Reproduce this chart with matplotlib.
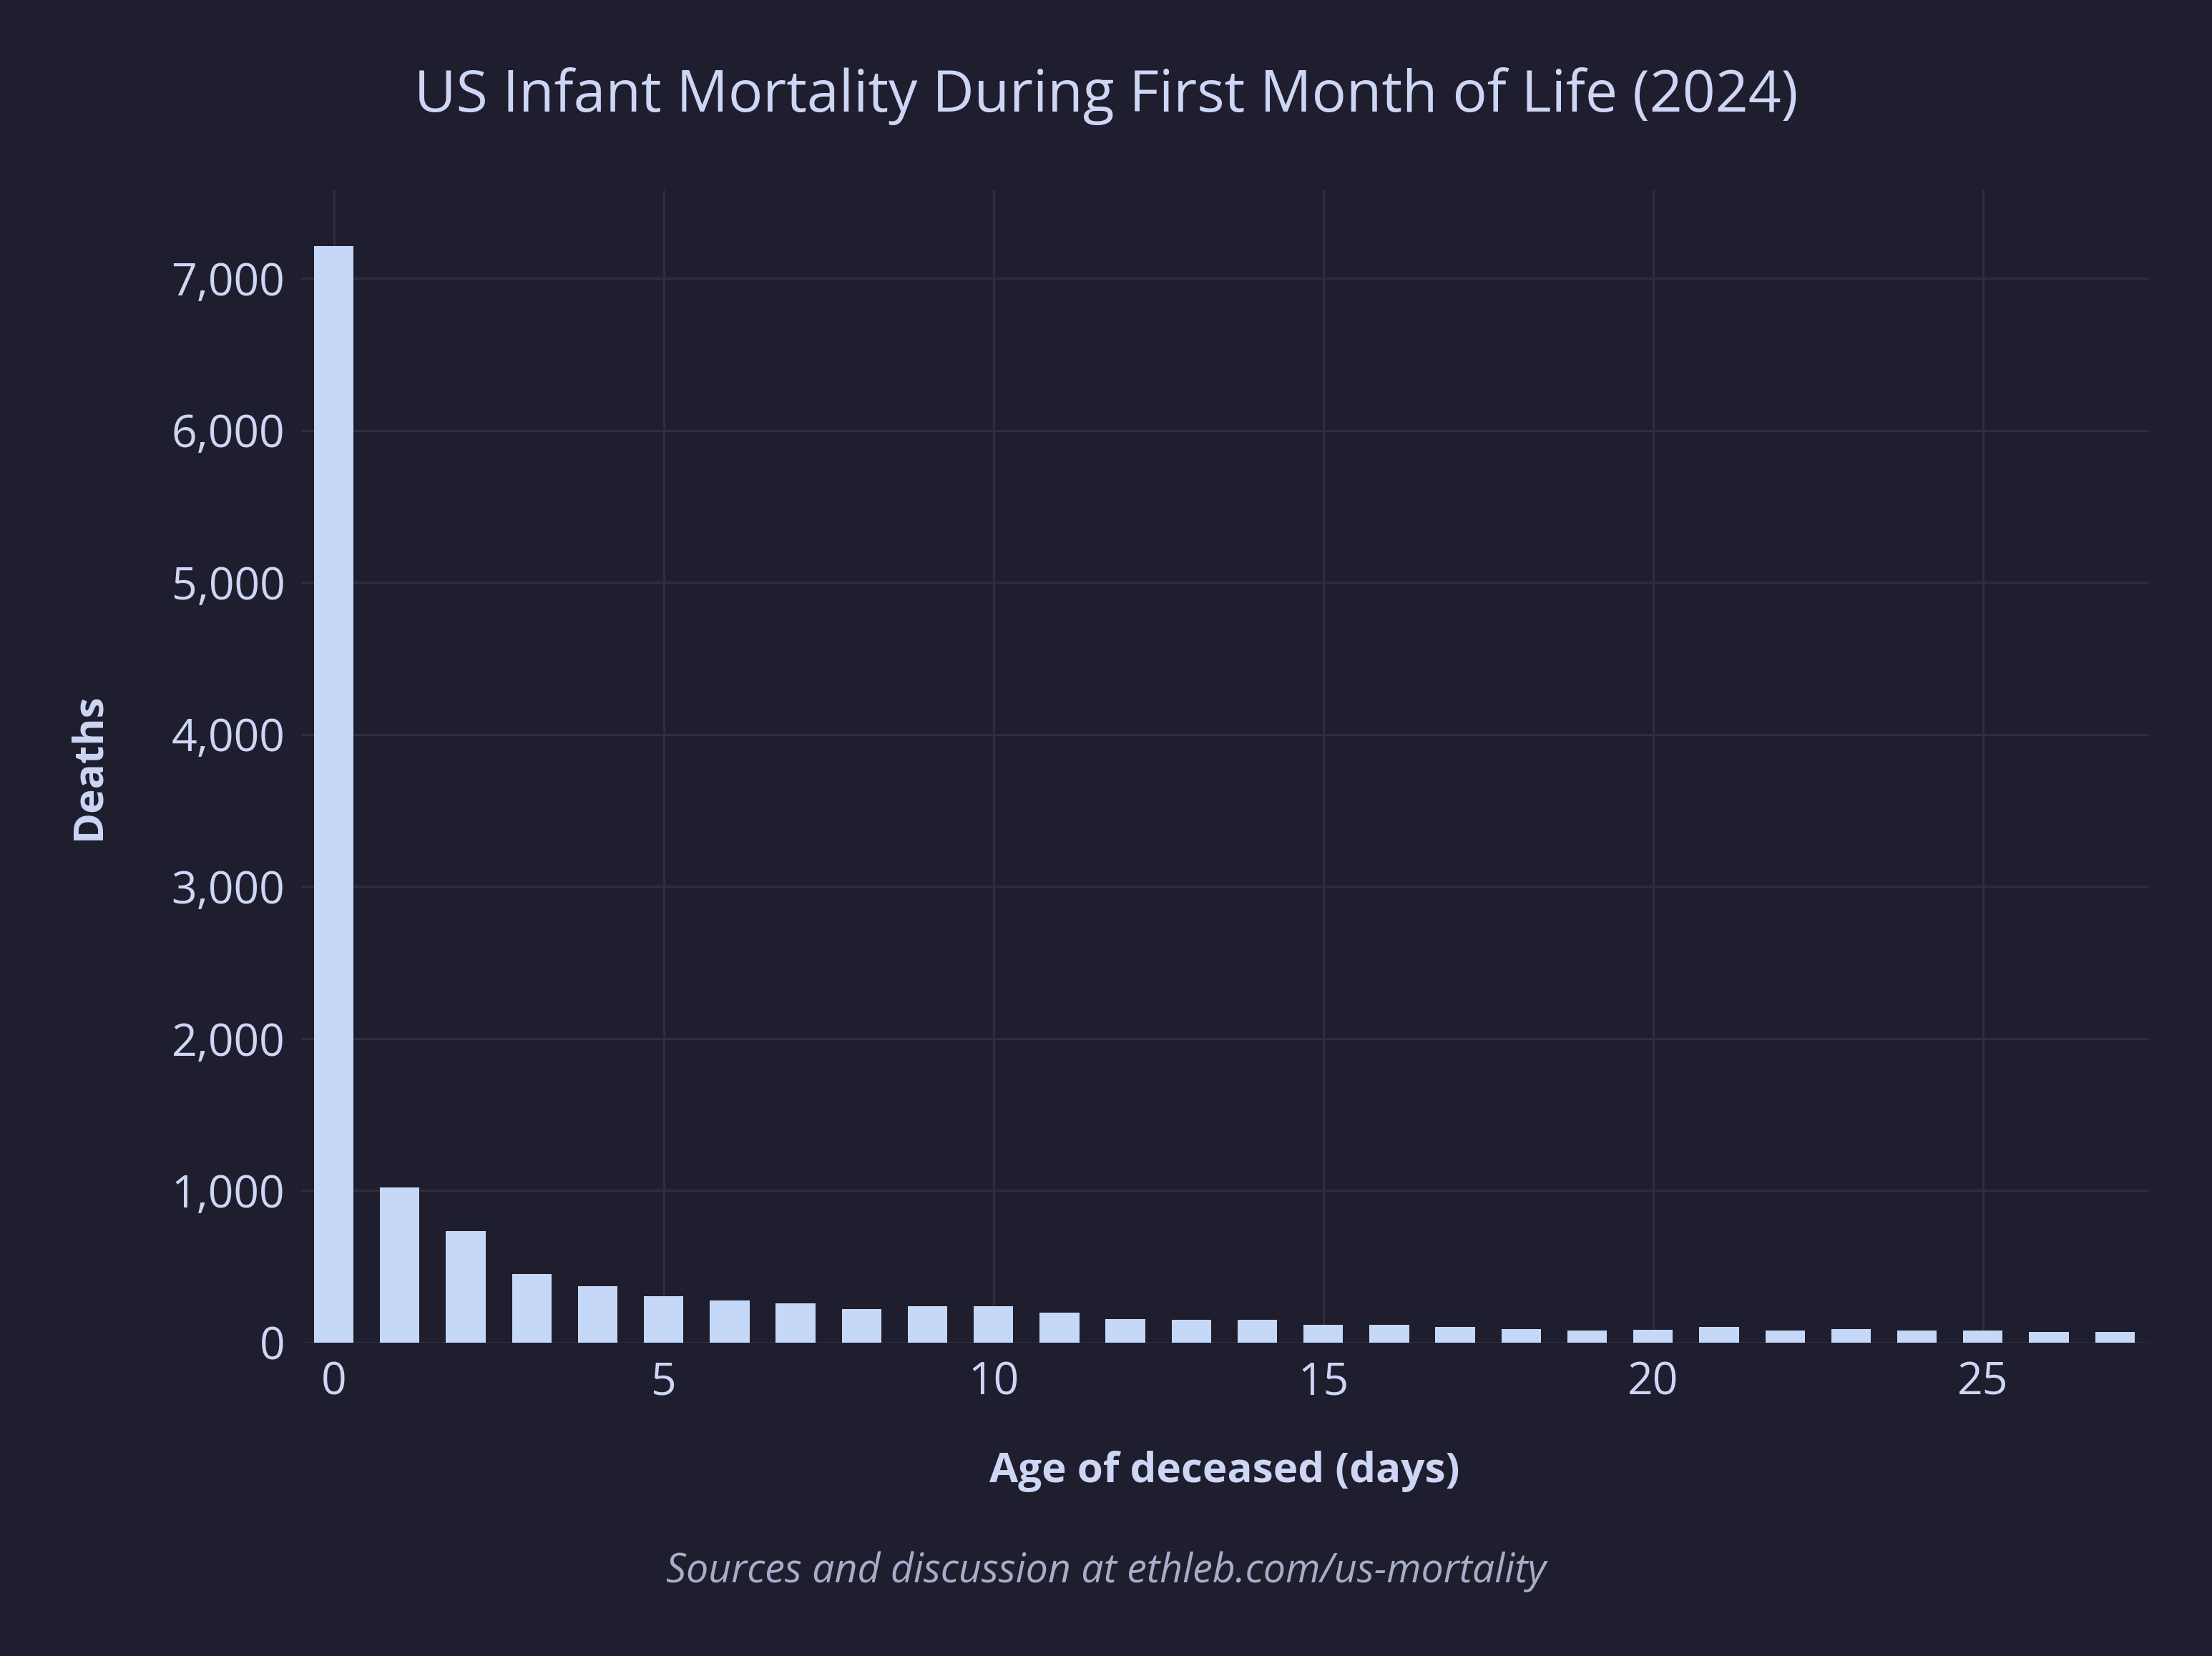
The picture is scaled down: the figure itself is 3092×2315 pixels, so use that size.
import matplotlib
matplotlib.use("Agg")
import matplotlib.pyplot as plt
from matplotlib.ticker import FuncFormatter

# Catppuccin-ish dark palette
bg = "#1e1e2e"
text_col = "#cdd6f4"
sub_col = "#a6adc8"
grid_col = "#2e2e40"
bar_col = "#c6d8f7"

# Data: deaths by age in days
days = list(range(28))
deaths = [7210, 1021, 734, 452, 372, 306, 278, 259, 221, 240,
          240, 198, 155, 151, 151, 118, 118, 102, 88, 78,
          83, 102, 78, 88, 78, 78, 70, 70]
xticks = [0, 5, 10, 15, 20, 25]
yticks = [0, 1000, 2000, 3000, 4000, 5000, 6000, 7000]

plt.rcParams['font.family'] = ['Open Sans', 'DejaVu Sans']

fig = plt.figure(figsize=(15.46, 11.575), dpi=200, facecolor=bg)
ax = fig.add_axes([0.136, 0.1892, 0.835, 0.696])
ax.set_facecolor(bg)

ax.bar(days, deaths, width=0.6, color=bar_col, zorder=3)

ax.set_xlim(-0.5, 27.5)
ax.set_ylim(0, 7580)
ax.set_xticks(xticks)
ax.set_yticks(yticks)
ax.yaxis.set_major_formatter(FuncFormatter(lambda v, p: f"{int(v):,}"))

ax.grid(True, color=grid_col, linewidth=1.1, zorder=0)
for s in ax.spines.values():
    s.set_visible(False)
ax.tick_params(length=0, colors=text_col, labelsize=22.5)
ax.tick_params(axis='x', pad=9)
ax.tick_params(axis='y', pad=8)

ax.set_xlabel("Age of deceased (days)", color=text_col, fontsize=21,
              fontweight='bold', labelpad=23)
ax.set_ylabel("Deaths", color=text_col, fontsize=21, fontweight='bold',
              labelpad=31)

fig.text(0.5, 0.942, "US Infant Mortality During First Month of Life (2024)",
         ha='center', va='center', color=text_col, fontsize=29)
fig.text(0.5, 0.051, "Sources and discussion at ethleb.com/us-mortality",
         ha='center', va='center', color=sub_col, fontsize=20, style='italic')

fig.savefig("out.png", dpi=200, facecolor=bg)
